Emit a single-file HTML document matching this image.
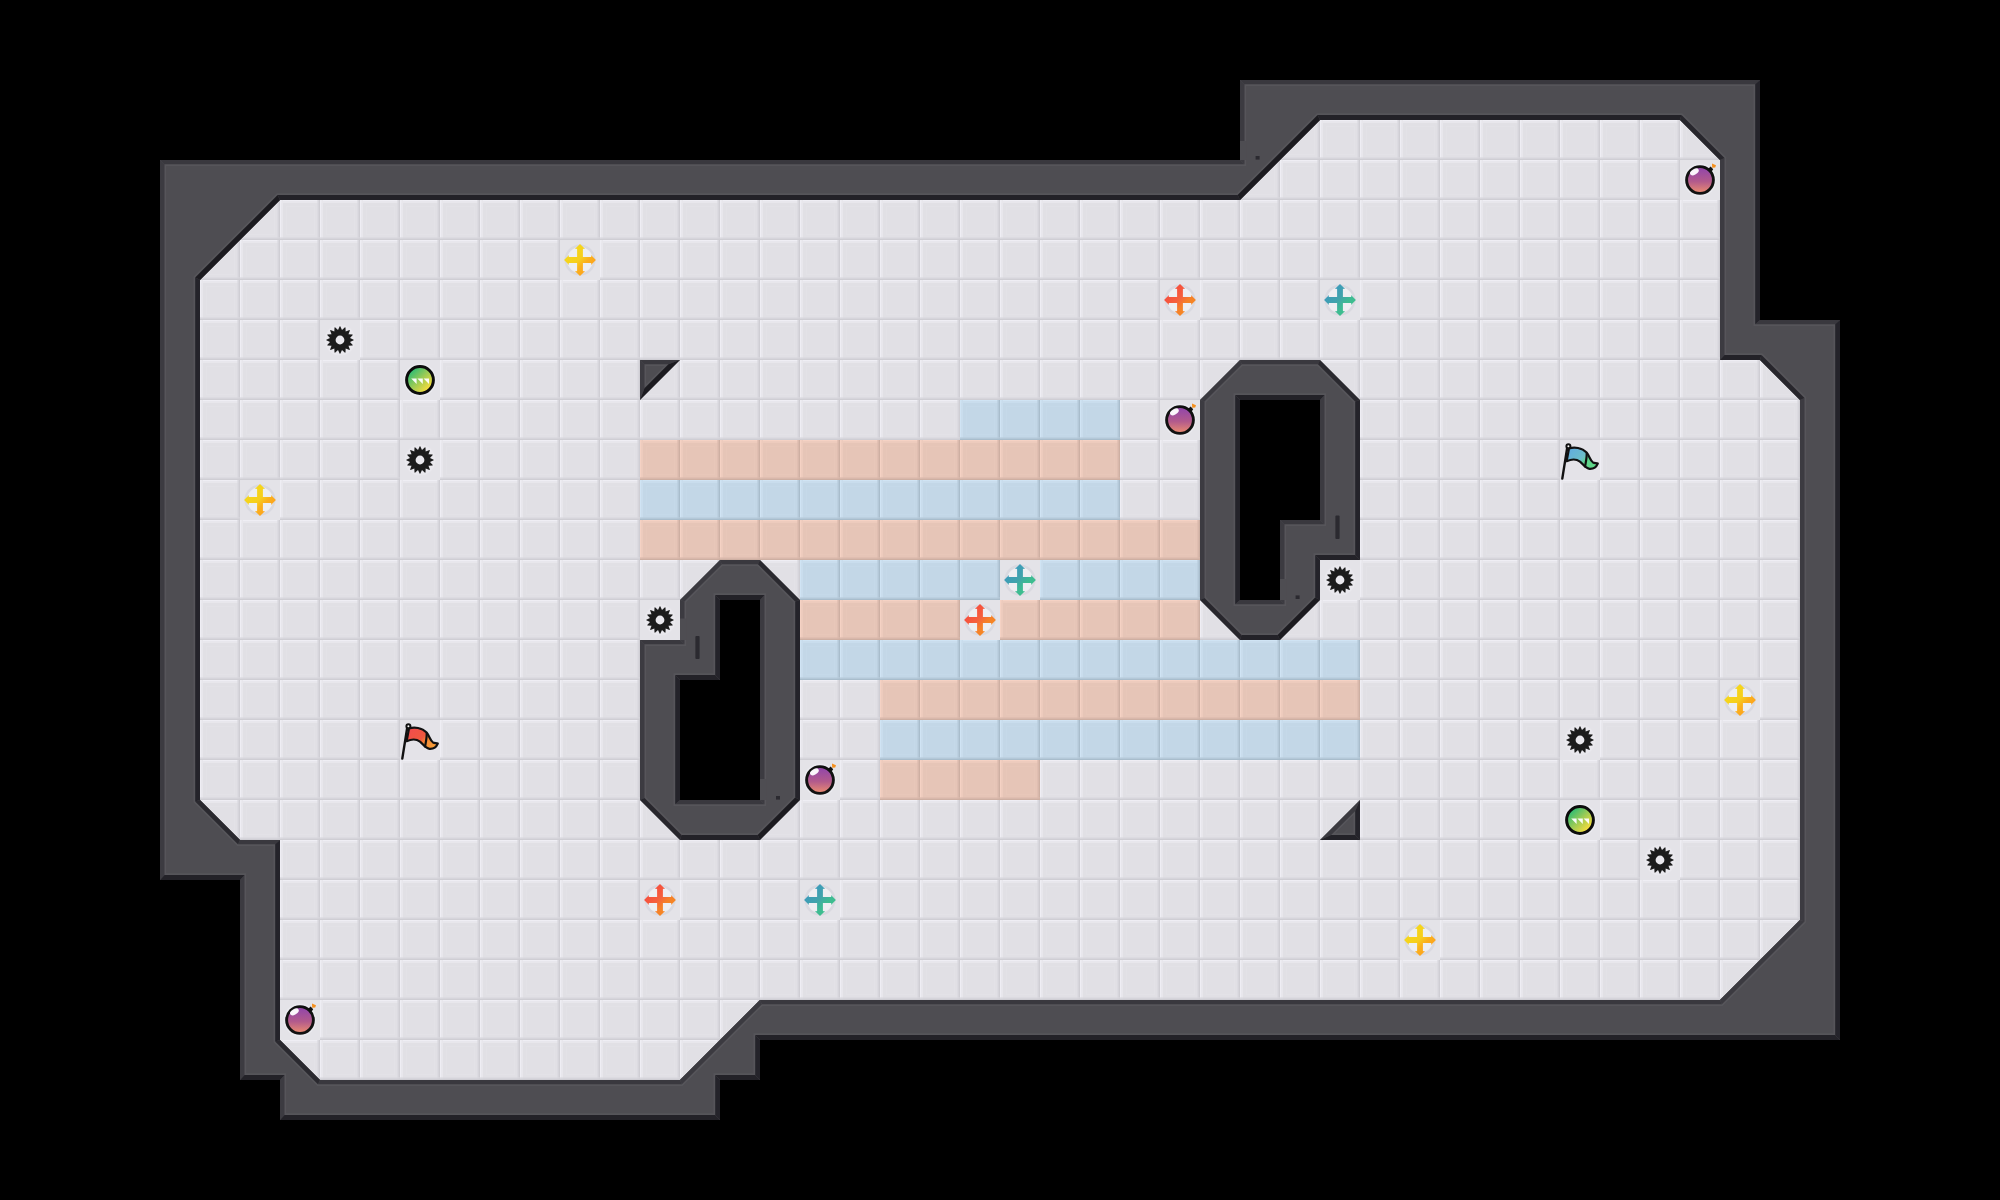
<!DOCTYPE html>
<html><head><meta charset="utf-8"><title>Map</title>
<style>html,body{margin:0;padding:0;background:#000;overflow:hidden}svg{display:block}</style>
</head><body>
<svg width="2000" height="1200" viewBox="0 0 2000 1200">
<defs>
<pattern id="tile" width="40" height="40" patternUnits="userSpaceOnUse">
<rect width="40" height="40" fill="#e1e0e5"/>
<rect x="6.5" y="6.5" width="28" height="28" fill="none" stroke="#e7e6eb" stroke-width="1" opacity=".4"/>
<rect width="40" height="1.6" fill="#efeef4"/><rect y="1.6" width="40" height="1.4" fill="#e8e7ec"/>
<rect width="1.6" height="40" fill="#efeef4"/><rect x="1.6" width="1.4" height="40" fill="#e8e7ec"/>
<rect x="37.4" width="1.2" height="40" fill="#dad9df"/><rect x="38.6" width="1.4" height="40" fill="#cfced4"/>
<rect y="37.4" width="40" height="1.2" fill="#dad9df"/><rect y="38.6" width="40" height="1.4" fill="#cfced4"/>
</pattern><pattern id="tb" width="40" height="40" patternUnits="userSpaceOnUse">
<rect width="40" height="40" fill="#c3d7e7"/>
<rect x="6.5" y="6.5" width="28" height="28" fill="none" stroke="#c8dcec" stroke-width="1" opacity=".4"/>
<rect width="40" height="1.6" fill="#d0e4f4"/><rect y="1.6" width="40" height="1.4" fill="#c9dded"/>
<rect width="1.6" height="40" fill="#d0e4f4"/><rect x="1.6" width="1.4" height="40" fill="#c9dded"/>
<rect x="37.4" width="1.2" height="40" fill="#b8ccdc"/><rect x="38.6" width="1.4" height="40" fill="#a9bdcc"/>
<rect y="37.4" width="40" height="1.2" fill="#b8ccdc"/><rect y="38.6" width="40" height="1.4" fill="#a9bdcc"/>
</pattern><pattern id="tr" width="40" height="40" patternUnits="userSpaceOnUse">
<rect width="40" height="40" fill="#e6c5b7"/>
<rect x="6.5" y="6.5" width="28" height="28" fill="none" stroke="#ebcabc" stroke-width="1" opacity=".4"/>
<rect width="40" height="1.6" fill="#f5d2c4"/><rect y="1.6" width="40" height="1.4" fill="#edcbbd"/>
<rect width="1.6" height="40" fill="#f5d2c4"/><rect x="1.6" width="1.4" height="40" fill="#edcbbd"/>
<rect x="37.4" width="1.2" height="40" fill="#dcbaad"/><rect x="38.6" width="1.4" height="40" fill="#ceafa2"/>
<rect y="37.4" width="40" height="1.2" fill="#dcbaad"/><rect y="38.6" width="40" height="1.4" fill="#ceafa2"/>
</pattern>
<clipPath id="wc"><path clip-rule="evenodd" d="M160 160 L1240 160 L1240 80 L1760 80 L1760 320 L1840 320 L1840 1040 L760 1040 L760 1080 L720 1080 L720 1120 L280 1120 L280 1080 L240 1080 L240 880 L160 880Z M280 200 L1240 200 L1320 120 L1680 120 L1720 160 L1720 360 L1760 360 L1800 400 L1800 920 L1720 1000 L760 1000 L680 1080 L320 1080 L280 1040 L280 840 L240 840 L200 800 L200 280Z M720 560 L760 560 L800 600 L800 800 L760 840 L680 840 L640 800 L640 640 L680 640 L680 600Z M720 600 L760 600 L760 800 L680 800 L680 680 L720 680Z M1280 640 L1240 640 L1200 600 L1200 400 L1240 360 L1320 360 L1360 400 L1360 560 L1320 560 L1320 600Z M1280 600 L1240 600 L1240 400 L1320 400 L1320 520 L1280 520Z M640 360 L680 360 L640 400Z M1360 840 L1320 840 L1360 800Z"/></clipPath>
<linearGradient id="gy" x1="0" y1="0" x2="1" y2="1"><stop offset=".15" stop-color="#f4d91a"/><stop offset=".48" stop-color="#f6cf1e"/><stop offset=".62" stop-color="#fab01e"/><stop offset=".9" stop-color="#ff9a1a"/></linearGradient>
<linearGradient id="gr" x1="0" y1="0" x2="1" y2="1"><stop offset=".15" stop-color="#f6483c"/><stop offset=".46" stop-color="#f5603e"/><stop offset=".62" stop-color="#f5802a"/><stop offset=".9" stop-color="#f68c1c"/></linearGradient>
<linearGradient id="gb" x1="0" y1="0" x2="1" y2="1"><stop offset=".15" stop-color="#3b99bf"/><stop offset=".46" stop-color="#41a3ac"/><stop offset=".62" stop-color="#3fb994"/><stop offset=".9" stop-color="#3cc487"/></linearGradient>
<linearGradient id="gbomb" x1="0" y1="0" x2="0" y2="1"><stop offset=".1" stop-color="#9548a8"/><stop offset=".55" stop-color="#b25a8c"/><stop offset="1" stop-color="#ee8e6e"/></linearGradient>
<linearGradient id="gpup" x1="0.1" y1="0.1" x2="0.9" y2="0.9"><stop offset=".1" stop-color="#35bd72"/><stop offset=".5" stop-color="#9ccb55"/><stop offset=".9" stop-color="#f5dc3c"/></linearGradient>
<linearGradient id="grf" x1="0" y1="0" x2="1" y2="0.6"><stop offset="0" stop-color="#f24a50"/><stop offset=".58" stop-color="#f0583e"/><stop offset=".72" stop-color="#f58a36"/><stop offset="1" stop-color="#f59a36"/></linearGradient>
<linearGradient id="gbf" x1="0" y1="0" x2="1" y2="0.6"><stop offset="0" stop-color="#5fa9e4"/><stop offset=".58" stop-color="#6cbdc8"/><stop offset=".72" stop-color="#5fd48c"/><stop offset="1" stop-color="#5ed788"/></linearGradient>
<g id="bg"><rect width="40" height="40" fill="#e4e3e8"/></g>
<g id="spike"><use href="#bg"/><circle cx="20" cy="20" r="15.5" fill="#ecebf0" opacity=".6"/><path fill-rule="evenodd" fill="#1c1c1c" d="M19.73 6.30L20.27 6.30L21.99 10.00L24.99 7.24L25.49 7.45L25.67 11.52L29.50 10.12L29.88 10.50L28.48 14.33L32.55 14.51L32.76 15.01L30.00 18.01L33.70 19.73L33.70 20.27L30.00 21.99L32.76 24.99L32.55 25.49L28.48 25.67L29.88 29.50L29.50 29.88L25.67 28.48L25.49 32.55L24.99 32.76L21.99 30.00L20.27 33.70L19.73 33.70L18.01 30.00L15.01 32.76L14.51 32.55L14.33 28.48L10.50 29.88L10.12 29.50L11.52 25.67L7.45 25.49L7.24 24.99L10.00 21.99L6.30 20.27L6.30 19.73L10.00 18.01L7.24 15.01L7.45 14.51L11.52 14.33L10.12 10.50L10.50 10.12L14.33 11.52L14.51 7.45L15.01 7.24L18.01 10.00Z M24.4 20A4.4 4.4 0 1 0 15.6 20A4.4 4.4 0 1 0 24.4 20Z"/></g>
<g id="bomb"><use href="#bg"/><circle cx="20" cy="20" r="16.5" fill="#efeef3" opacity=".6"/>
<path d="M27 10 L30.6 6.6 L33.2 9.2 L30.5 13Z" fill="#111"/>
<circle cx="20" cy="20" r="13.4" fill="url(#gbomb)" stroke="#111" stroke-width="2.9"/>
<ellipse cx="14.4" cy="11.9" rx="4.8" ry="2.7" transform="rotate(-30 14.4 11.9)" fill="#fff" opacity=".95"/>
<path d="M32 3.6 L36 5.2 L35.2 7.6 L32.2 7.8Z" fill="#f5901e"/></g>
<g id="pup"><use href="#bg"/><circle cx="20" cy="20" r="16.5" fill="#efeef3" opacity=".6"/>
<circle cx="20" cy="20" r="13.4" fill="url(#gpup)" stroke="#0c0c0c" stroke-width="3"/>
<path d="M11.2 18.4H16.6V24Z M17.4 18.4H22.8V24Z M23.6 18.4H29V24Z" fill="#fff" opacity=".95"/></g>
<g id="flagshape"><path d="M7.6 5.2 L2.3 38.6" stroke="#111" stroke-width="2.4" stroke-linecap="round" fill="none"/>
<circle cx="8.4" cy="6.2" r="2" fill="#fff" stroke="#111" stroke-width="2"/></g>
<path id="cloth" d="M9 8.6 C14 6.6 22 7.6 26.6 12.6 C29.6 16 30 20.6 33 22.4 C34.6 23.2 36.4 23 37.8 23.6 C36.6 26.4 33.6 29 29.6 28.8 C25.4 28.6 23.6 24.6 20 21.6 C16 18.6 10.6 19.4 6.6 21.2Z"/>
<g id="rflag"><use href="#bg"/><use href="#cloth" fill="url(#grf)" stroke="#111" stroke-width="2.2" stroke-linejoin="round"/><path d="M26.6 13 C27.2 17 25.6 22 25 27.4" stroke="#111" stroke-width="2.2" fill="none"/><use href="#flagshape"/></g>
<g id="bflag"><use href="#bg"/><use href="#cloth" fill="url(#gbf)" stroke="#111" stroke-width="2.2" stroke-linejoin="round"/><path d="M26.6 13 C27.2 17 25.6 22 25 27.4" stroke="#111" stroke-width="2.2" fill="none"/><use href="#flagshape"/></g>
<g id="halo"><use href="#bg"/><circle cx="20" cy="20" r="14" fill="none" stroke="#9c9cae" stroke-width="3" opacity=".14"/><circle cx="20" cy="20" r="13" fill="#f2f4f6" opacity=".7"/></g>
<g id="yb"><use href="#halo"/><path d="M17.10 17.10L17.10 8.70L14.90 9.00L20.00 4.10L25.10 9.00L22.90 8.70L22.90 17.10L22.90 17.10L31.30 17.10L31.00 14.90L35.90 20.00L31.00 25.10L31.30 22.90L22.90 22.90L22.90 22.90L22.90 31.30L25.10 31.00L20.00 35.90L14.90 31.00L17.10 31.30L17.10 22.90L17.10 22.90L8.70 22.90L9.00 25.10L4.10 20.00L9.00 14.90L8.70 17.10L17.10 17.10Z" fill="url(#gy)"/></g>
<g id="rb"><use href="#halo"/><path d="M17.10 17.10L17.10 8.70L14.90 9.00L20.00 4.10L25.10 9.00L22.90 8.70L22.90 17.10L22.90 17.10L31.30 17.10L31.00 14.90L35.90 20.00L31.00 25.10L31.30 22.90L22.90 22.90L22.90 22.90L22.90 31.30L25.10 31.00L20.00 35.90L14.90 31.00L17.10 31.30L17.10 22.90L17.10 22.90L8.70 22.90L9.00 25.10L4.10 20.00L9.00 14.90L8.70 17.10L17.10 17.10Z" fill="url(#gr)"/></g>
<g id="bb"><use href="#halo"/><path d="M17.10 17.10L17.10 8.70L14.90 9.00L20.00 4.10L25.10 9.00L22.90 8.70L22.90 17.10L22.90 17.10L31.30 17.10L31.00 14.90L35.90 20.00L31.00 25.10L31.30 22.90L22.90 22.90L22.90 22.90L22.90 31.30L25.10 31.00L20.00 35.90L14.90 31.00L17.10 31.30L17.10 22.90L17.10 22.90L8.70 22.90L9.00 25.10L4.10 20.00L9.00 14.90L8.70 17.10L17.10 17.10Z" fill="url(#gb)"/></g>
</defs>
<rect width="2000" height="1200" fill="#000"/>
<path d="M280 200 L1240 200 L1320 120 L1680 120 L1720 160 L1720 360 L1760 360 L1800 400 L1800 920 L1720 1000 L760 1000 L680 1080 L320 1080 L280 1040 L280 840 L240 840 L200 800 L200 280Z" fill="url(#tile)"/>
<g fill="url(#tb)"><rect x="960" y="400" width="160" height="40"/><rect x="640" y="480" width="480" height="40"/><rect x="800" y="560" width="400" height="40"/><rect x="800" y="640" width="560" height="40"/><rect x="880" y="720" width="480" height="40"/></g>
<g fill="url(#tr)"><rect x="640" y="440" width="480" height="40"/><rect x="640" y="520" width="560" height="40"/><rect x="800" y="600" width="400" height="40"/><rect x="880" y="680" width="480" height="40"/><rect x="880" y="760" width="160" height="40"/></g>
<path d="M720 600 L760 600 L760 800 L680 800 L680 680 L720 680Z M1280 600 L1240 600 L1240 400 L1320 400 L1320 520 L1280 520Z" fill="#000"/>
<path d="M160 160 L1240 160 L1240 80 L1760 80 L1760 320 L1840 320 L1840 1040 L760 1040 L760 1080 L720 1080 L720 1120 L280 1120 L280 1080 L240 1080 L240 880 L160 880Z M280 200 L1240 200 L1320 120 L1680 120 L1720 160 L1720 360 L1760 360 L1800 400 L1800 920 L1720 1000 L760 1000 L680 1080 L320 1080 L280 1040 L280 840 L240 840 L200 800 L200 280Z M720 560 L760 560 L800 600 L800 800 L760 840 L680 840 L640 800 L640 640 L680 640 L680 600Z M720 600 L760 600 L760 800 L680 800 L680 680 L720 680Z M1280 640 L1240 640 L1200 600 L1200 400 L1240 360 L1320 360 L1360 400 L1360 560 L1320 560 L1320 600Z M1280 600 L1240 600 L1240 400 L1320 400 L1320 520 L1280 520Z M640 360 L680 360 L640 400Z M1360 840 L1320 840 L1360 800Z" fill="#4e4d52" fill-rule="evenodd"/>
<g clip-path="url(#wc)" shape-rendering="geometricPrecision"><path d="M160 160L1240 160L1246.20 165.90L166.20 165.90ZM1240 160L1240 80L1246.20 85.90L1246.20 165.90ZM1240 80L1760 80L1753.50 85.90L1246.20 85.90ZM1760 80L1760 320L1753.50 325.90L1753.50 85.90ZM1760 320L1840 320L1833.50 325.90L1753.50 325.90ZM1840 320L1840 1040L1833.50 1033.30L1833.50 325.90ZM1840 1040L760 1040L753.50 1033.30L1833.50 1033.30ZM760 1040L760 1080L753.50 1073.30L753.50 1033.30ZM760 1080L720 1080L713.50 1073.30L753.50 1073.30ZM720 1080L720 1120L713.50 1113.30L713.50 1073.30ZM720 1120L280 1120L286.20 1113.30L713.50 1113.30ZM280 1120L280 1080L286.20 1073.30L286.20 1113.30ZM280 1080L240 1080L246.20 1073.30L286.20 1073.30ZM240 1080L240 880L246.20 873.30L246.20 1073.30ZM240 880L160 880L166.20 873.30L246.20 873.30ZM160 880L160 160L166.20 165.90L166.20 873.30ZM280 200L1240 200L1236.94 193.30L276.94 193.30ZM1240 200L1320 120L1316.94 113.30L1236.94 193.30ZM1320 120L1680 120L1682.21 113.30L1316.94 113.30ZM1680 120L1720 160L1726.20 157.29L1682.21 113.30ZM1720 160L1720 360L1726.20 353.30L1726.20 157.29ZM1720 360L1760 360L1762.21 353.30L1726.20 353.30ZM1760 360L1800 400L1806.20 397.29L1762.21 353.30ZM1800 400L1800 920L1806.20 922.29L1806.20 397.29ZM1800 920L1720 1000L1722.59 1005.90L1806.20 922.29ZM1720 1000L760 1000L762.59 1005.90L1722.59 1005.90ZM760 1000L680 1080L682.59 1085.90L762.59 1005.90ZM680 1080L320 1080L317.27 1085.90L682.59 1085.90ZM320 1080L280 1040L273.50 1042.13L317.27 1085.90ZM280 1040L280 840L273.50 845.90L273.50 1042.13ZM280 840L240 840L237.27 845.90L273.50 845.90ZM240 840L200 800L193.50 802.13L237.27 845.90ZM200 800L200 280L193.50 276.74L193.50 802.13ZM200 280L280 200L276.94 193.30L193.50 276.74ZM720 560L760 560L757.27 565.90L722.59 565.90ZM760 560L800 600L793.50 602.13L757.27 565.90ZM800 600L800 800L793.50 796.74L793.50 602.13ZM800 800L760 840L756.94 833.30L793.50 796.74ZM760 840L680 840L682.21 833.30L756.94 833.30ZM680 840L640 800L646.20 797.29L682.21 833.30ZM640 800L640 640L646.20 645.90L646.20 797.29ZM640 640L680 640L686.20 645.90L646.20 645.90ZM680 640L680 600L686.20 602.29L686.20 645.90ZM680 600L720 560L722.59 565.90L686.20 602.29ZM720 600L760 600L766.20 593.30L713.50 593.30ZM760 600L760 800L766.20 805.90L766.20 593.30ZM760 800L680 800L673.50 805.90L766.20 805.90ZM680 800L680 680L673.50 673.30L673.50 805.90ZM680 680L720 680L713.50 673.30L673.50 673.30ZM720 680L720 600L713.50 593.30L713.50 673.30ZM1280 640L1240 640L1242.21 633.30L1276.94 633.30ZM1240 640L1200 600L1206.20 597.29L1242.21 633.30ZM1200 600L1200 400L1206.20 402.29L1206.20 597.29ZM1200 400L1240 360L1242.59 365.90L1206.20 402.29ZM1240 360L1320 360L1317.27 365.90L1242.59 365.90ZM1320 360L1360 400L1353.50 402.13L1317.27 365.90ZM1360 400L1360 560L1353.50 553.30L1353.50 402.13ZM1360 560L1320 560L1313.50 553.30L1353.50 553.30ZM1320 560L1320 600L1313.50 596.74L1313.50 553.30ZM1320 600L1280 640L1276.94 633.30L1313.50 596.74ZM1280 600L1240 600L1233.50 605.90L1286.20 605.90ZM1240 600L1240 400L1233.50 393.30L1233.50 605.90ZM1240 400L1320 400L1326.20 393.30L1233.50 393.30ZM1320 400L1320 520L1326.20 525.90L1326.20 393.30ZM1320 520L1280 520L1286.20 525.90L1326.20 525.90ZM1280 520L1280 600L1286.20 605.90L1286.20 525.90ZM640 360L680 360L664.34 365.90L646.20 365.90ZM680 360L640 400L646.20 384.04L664.34 365.90ZM640 400L640 360L646.20 365.90L646.20 384.04ZM1360 840L1320 840L1335.19 833.30L1353.50 833.30ZM1320 840L1360 800L1353.50 814.99L1335.19 833.30ZM1360 800L1360 840L1353.50 833.30L1353.50 814.99Z" fill="#56555a"/><path d="M1800 920L1720 1000L1721.88 1004.20L1804.50 921.58ZM760 1000L680 1080L681.88 1084.20L761.88 1004.20ZM680 600L720 560L721.88 564.20L684.50 601.58ZM1200 400L1240 360L1241.88 364.20L1204.50 401.58ZM1320 840L1360 800L1355.20 810.88L1331.08 835.00Z" fill="#3b3a40"/><path d="M1240 160L1240 80L1244.50 84.20L1244.50 164.20ZM280 1120L280 1080L284.50 1075.00L284.50 1115.00ZM240 1080L240 880L244.50 875.00L244.50 1075.00ZM160 880L160 160L164.50 164.20L164.50 875.00ZM1720 160L1720 360L1724.50 355.00L1724.50 157.99ZM1800 400L1800 920L1804.50 921.58L1804.50 397.99ZM640 800L640 640L644.50 644.20L644.50 797.99ZM680 640L680 600L684.50 601.58L684.50 644.20ZM760 600L760 800L764.50 804.20L764.50 595.00ZM1200 600L1200 400L1204.50 401.58L1204.50 597.99ZM1320 400L1320 520L1324.50 524.20L1324.50 395.00ZM1280 520L1280 600L1284.50 604.20L1284.50 524.20ZM640 400L640 360L644.50 364.20L644.50 388.15Z" fill="#3c3b41"/><path d="M160 160L1240 160L1244.50 164.20L164.50 164.20ZM1240 80L1760 80L1755.20 84.20L1244.50 84.20ZM1760 320L1840 320L1835.20 324.20L1755.20 324.20ZM1720 1000L760 1000L761.88 1004.20L1721.88 1004.20ZM680 1080L320 1080L317.98 1084.20L681.88 1084.20ZM280 840L240 840L237.98 844.20L275.20 844.20ZM720 560L760 560L757.98 564.20L721.88 564.20ZM640 640L680 640L684.50 644.20L644.50 644.20ZM760 800L680 800L675.20 804.20L764.50 804.20ZM1240 360L1320 360L1317.98 364.20L1241.88 364.20ZM1280 600L1240 600L1235.20 604.20L1284.50 604.20ZM1320 520L1280 520L1284.50 524.20L1324.50 524.20ZM640 360L680 360L668.45 364.20L644.50 364.20Z" fill="#39383e"/><path d="M320 1080L280 1040L275.20 1041.42L317.98 1084.20ZM240 840L200 800L195.20 801.42L237.98 844.20ZM760 560L800 600L795.20 601.42L757.98 564.20ZM1320 360L1360 400L1355.20 401.42L1317.98 364.20Z" fill="#2a292f"/><path d="M1680 120L1720 160L1724.50 157.99L1681.51 115.00ZM1760 360L1800 400L1804.50 397.99L1761.51 355.00ZM680 840L640 800L644.50 797.99L681.51 835.00ZM1240 640L1200 600L1204.50 597.99L1241.51 635.00Z" fill="#27262c"/><path d="M1760 80L1760 320L1755.20 324.20L1755.20 84.20ZM1840 320L1840 1040L1835.20 1035.00L1835.20 324.20ZM760 1040L760 1080L755.20 1075.00L755.20 1035.00ZM720 1080L720 1120L715.20 1115.00L715.20 1075.00ZM280 1040L280 840L275.20 844.20L275.20 1041.42ZM200 800L200 280L195.20 277.45L195.20 801.42ZM800 600L800 800L795.20 797.45L795.20 601.42ZM680 800L680 680L675.20 675.00L675.20 804.20ZM720 680L720 600L715.20 595.00L715.20 675.00ZM1360 400L1360 560L1355.20 555.00L1355.20 401.42ZM1320 560L1320 600L1315.20 597.45L1315.20 555.00ZM1240 600L1240 400L1235.20 395.00L1235.20 604.20ZM1360 800L1360 840L1355.20 835.00L1355.20 810.88Z" fill="#24232a"/><path d="M1840 1040L760 1040L755.20 1035.00L1835.20 1035.00ZM760 1080L720 1080L715.20 1075.00L755.20 1075.00ZM720 1120L280 1120L284.50 1115.00L715.20 1115.00ZM280 1080L240 1080L244.50 1075.00L284.50 1075.00ZM240 880L160 880L164.50 875.00L244.50 875.00ZM280 200L1240 200L1237.65 195.00L277.65 195.00ZM1320 120L1680 120L1681.51 115.00L1317.65 115.00ZM1720 360L1760 360L1761.51 355.00L1724.50 355.00ZM760 840L680 840L681.51 835.00L757.65 835.00ZM720 600L760 600L764.50 595.00L715.20 595.00ZM680 680L720 680L715.20 675.00L675.20 675.00ZM1280 640L1240 640L1241.51 635.00L1277.65 635.00ZM1360 560L1320 560L1315.20 555.00L1355.20 555.00ZM1240 400L1320 400L1324.50 395.00L1235.20 395.00ZM1360 840L1320 840L1331.08 835.00L1355.20 835.00Z" fill="#232228"/><path d="M1240 200L1320 120L1317.65 115.00L1237.65 195.00ZM200 280L280 200L277.65 195.00L195.20 277.45ZM800 800L760 840L757.65 835.00L795.20 797.45ZM1320 600L1280 640L1277.65 635.00L1315.20 597.45ZM680 360L640 400L644.50 388.15L668.45 364.20Z" fill="#1c1b20"/></g>
<g fill="#2b2a30"><rect x="695.4" y="636" width="4.2" height="23" rx="1"/><rect x="1335.4" y="515.5" width="4.2" height="23.5" rx="1"/>
<rect x="776" y="796" width="4" height="3.6"/><rect x="1295.6" y="595.4" width="4" height="3.6"/><rect x="1255.6" y="156" width="4" height="3.6"/></g>
<rect x="680" y="618.5" width="6.4" height="21.5" fill="#4e4d52"/><rect x="1240" y="141" width="6.6" height="19" fill="#4e4d52"/><rect x="1280" y="579" width="6.6" height="21" fill="#4e4d52"/><rect x="760" y="779" width="6.6" height="21" fill="#4e4d52"/>
<use href="#spike" x="320" y="320"/><use href="#spike" x="400" y="440"/><use href="#spike" x="640" y="600"/><use href="#spike" x="1320" y="560"/><use href="#spike" x="1560" y="720"/><use href="#spike" x="1640" y="840"/><use href="#bomb" x="1680" y="160"/><use href="#bomb" x="1160" y="400"/><use href="#bomb" x="800" y="760"/><use href="#bomb" x="280" y="1000"/><use href="#pup" x="400" y="360"/><use href="#pup" x="1560" y="800"/><use href="#rflag" x="400" y="720"/><use href="#bflag" x="1560" y="440"/><use href="#yb" x="560" y="240"/><use href="#yb" x="240" y="480"/><use href="#yb" x="1720" y="680"/><use href="#yb" x="1400" y="920"/><use href="#rb" x="1160" y="280"/><use href="#rb" x="960" y="600"/><use href="#rb" x="640" y="880"/><use href="#bb" x="1320" y="280"/><use href="#bb" x="1000" y="560"/><use href="#bb" x="800" y="880"/>
</svg>
</body></html>
